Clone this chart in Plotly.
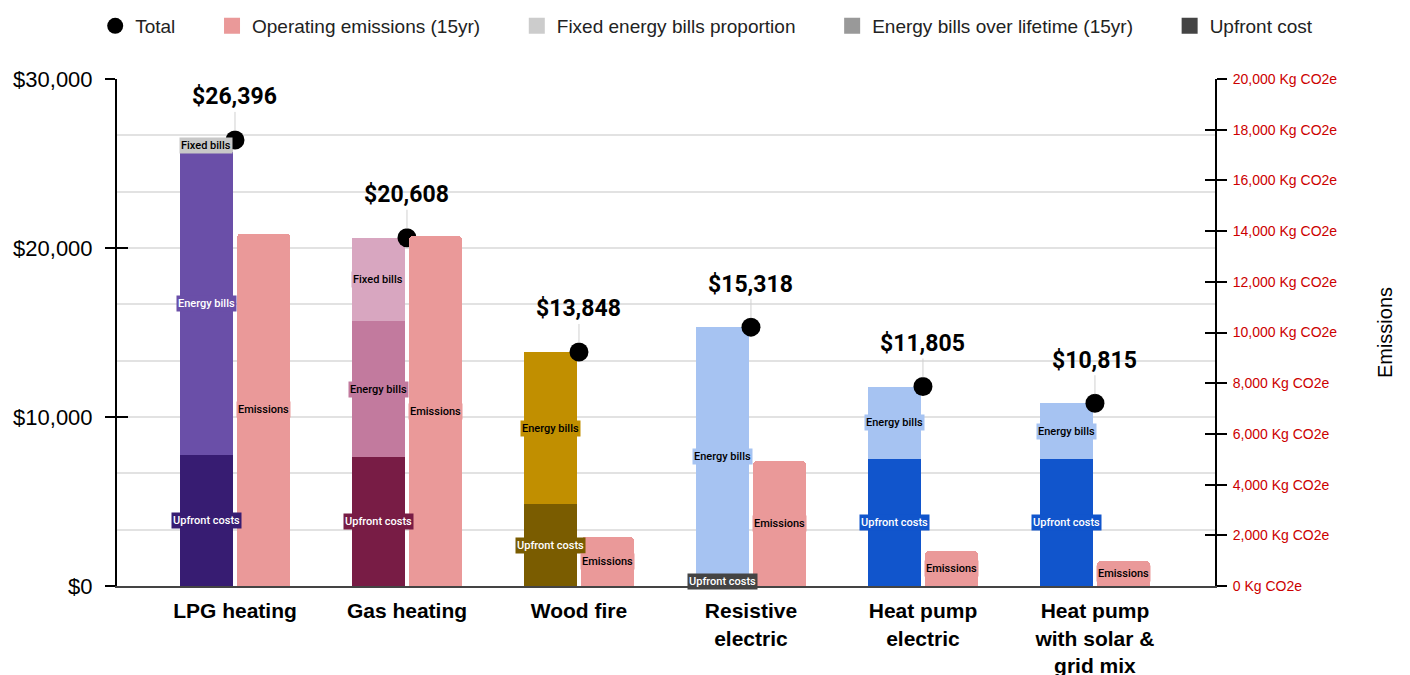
import plotly.graph_objects as go

# ---------------- data ----------------
categories = ["LPG heating", "Gas heating", "Wood fire", "Resistive<br>electric",
              "Heat pump<br>electric", "Heat pump<br>with solar &<br>grid mix"]
upfront = [7750, 7630, 4850, 0, 7500, 7500]
energy_bills = [17930, 8050, 8998, 15318, 4305, 3315]
fixed_bills = [716, 4928, 0, 0, 0, 0]
totals = [26396, 20608, 13848, 15318, 11805, 10815]
emissions = [13900, 13800, 1930, 4930, 1380, 990]
cost_ticks = [0, 10000, 20000, 30000]

upfront_colors = ["#371c72", "#781c45", "#7a5c00", "#444444", "#1155cc", "#1155cc"]
energy_colors = ["#6a4fa8", "#c27a9e", "#c18f00", "#a6c3f2", "#a6c3f2", "#a6c3f2"]
fixed_colors = ["#c8c8c8", "#d8a6c0", "#c8c8c8", "#c8c8c8", "#c8c8c8", "#c8c8c8"]
emission_color = "#ea9999"

legend_names = ["Total", "Operating emissions (15yr)", "Fixed energy bills proportion",
                "Energy bills over lifetime (15yr)", "Upfront cost"]
legend_colors = ["#000000", "#ea9999", "#cccccc", "#999999", "#444444"]
legend_symbols = ["circle", "square", "square", "square", "square"]

# ---------------- layout helpers ----------------
idx = list(range(len(categories)))
OFF = 0.166
BW = 0.308
cost_x = [i - OFF for i in idx]
em_x = [i + OFF for i in idx]

FONT = "Liberation Sans, Arial, sans-serif"
LBL_FONT = "Roboto, Arial, sans-serif"
PAD = "\u00a0" * 6


def text_color(hexc):
    h = hexc.lstrip("#")
    r, g, b = int(h[0:2], 16), int(h[2:4], 16), int(h[4:6], 16)
    lum = 0.299 * r + 0.587 * g + 0.114 * b
    return "#ffffff" if lum < 140 else "#000000"


fig = go.Figure()

# legend-only entries
for k, (n, c, s) in enumerate(zip(legend_names, legend_colors, legend_symbols)):
    label = n + (PAD if k < len(legend_names) - 1 else "")
    fig.add_trace(go.Scatter(x=[None], y=[None], mode="markers", name=label,
                             marker=dict(color=c, size=18, symbol=s)))

# stacked cost bars
fig.add_trace(go.Bar(x=cost_x, y=upfront, width=BW, marker=dict(color=upfront_colors, line=dict(width=0)),
                     showlegend=False, hoverinfo="y"))
fig.add_trace(go.Bar(x=cost_x, y=energy_bills, width=BW, marker=dict(color=energy_colors, line=dict(width=0)),
                     showlegend=False, hoverinfo="y"))
fig.add_trace(go.Bar(x=cost_x, y=fixed_bills, width=BW, marker=dict(color=fixed_colors, line=dict(width=0)),
                     showlegend=False, hoverinfo="y"))

# emissions bars on secondary axis
fig.add_trace(go.Bar(x=em_x, y=emissions, width=BW, yaxis="y2",
                     marker=dict(color=emission_color, cornerradius=4, line=dict(width=0)),
                     showlegend=False, hoverinfo="y"))

# total markers
fig.add_trace(go.Scatter(x=idx, y=totals, mode="markers", marker=dict(color="#000000", size=19),
                         showlegend=False, hoverinfo="y"))

# helper traces for crossing-tick overlay axes
fig.add_trace(go.Scatter(x=[None], y=[None], yaxis="y3", showlegend=False, hoverinfo="skip"))
fig.add_trace(go.Scatter(x=[None], y=[None], yaxis="y4", showlegend=False, hoverinfo="skip"))

annotations = []
for i in idx:
    segs = [("Upfront costs", 0, upfront[i], upfront_colors[i], True),
            ("Energy bills", upfront[i], energy_bills[i], energy_colors[i], True),
            ("Fixed bills", upfront[i] + energy_bills[i], fixed_bills[i], fixed_colors[i], fixed_bills[i] > 0)]
    for txt, base, val, col, show in segs:
        if not show:
            continue
        annotations.append(dict(
            x=cost_x[i], y=base + val / 2, xref="x", yref="y", text=txt, showarrow=False,
            font=dict(family=LBL_FONT, size=11, color=text_color(col), weight=500),
            bgcolor=col, borderpad=1, yshift=5 if val == 0 else 0))
    annotations.append(dict(
        x=em_x[i], y=emissions[i] / 2, xref="x", yref="y2", text="Emissions", showarrow=False,
        font=dict(family=LBL_FONT, size=11, color="#000000", weight=500), bgcolor=emission_color, borderpad=1))
    annotations.append(dict(
        x=i, y=totals[i], xref="x", yref="y", text=f"${totals[i]:,}", showarrow=True,
        arrowhead=0, arrowwidth=1, arrowcolor="#d0d0d0", ax=0, ay=-43, standoff=9,
        font=dict(family=LBL_FONT, size=23, color="#000000", weight="bold")))

fig.update_layout(
    width=1410, height=675,
    margin=dict(l=117, r=195, t=79, b=89, autoexpand=False),
    paper_bgcolor="white", plot_bgcolor="white",
    barmode="stack",
    font=dict(family=FONT, color="#000000"),
    showlegend=True,
    legend=dict(orientation="h", x=1.094, xanchor="right", y=1.1045, yanchor="middle",
                traceorder="normal", itemsizing="trace",
                font=dict(family=FONT, size=19, color="#222222")),
    xaxis=dict(range=[-0.686, 5.698], tickvals=idx, ticktext=categories,
               tickfont=dict(family=FONT, size=21, color="#000000", weight="bold"),
               showline=True, linecolor="#444444", linewidth=2, showgrid=False, zeroline=False,
               ticks="", automargin=False, ticklabelstandoff=5),
    yaxis=dict(range=[0, 30000], tickvals=cost_ticks, ticktext=[f"${v:,}" for v in cost_ticks],
               tickfont=dict(family=FONT, size=22, color="#000000"),
               ticks="outside", ticklen=10, tickwidth=2, tickcolor="#000000", ticklabelstandoff=8,
               showline=True, linecolor="#000000", linewidth=2, automargin=False,
               showgrid=True, gridcolor="#e2e2e2", gridwidth=1.5, zeroline=False,
               minor=dict(tick0=0, dtick=10000 / 3, showgrid=True, gridcolor="#e2e2e2", gridwidth=1.5, ticks="")),
    yaxis2=dict(range=[0, 20000], overlaying="y", side="right", anchor="x", dtick=2000,
                tickformat=",", ticksuffix=" Kg CO2e", automargin=False, ticklabelstandoff=3,
                tickfont=dict(family=FONT, size=14, color="#cc0000"),
                ticks="outside", ticklen=10, tickwidth=2, tickcolor="#000000",
                showline=True, linecolor="#000000", linewidth=2, showgrid=False, zeroline=False,
                title=dict(text="Emissions", font=dict(family=FONT, size=20, color="#000000"), standoff=42)),
    yaxis3=dict(range=[0, 30000], overlaying="y", side="left", anchor="x", automargin=False,
                tickvals=cost_ticks, ticks="inside", ticklen=11, tickwidth=2,
                tickcolor="#000000", showticklabels=False, showgrid=False, showline=False, zeroline=False),
    yaxis4=dict(range=[0, 20000], overlaying="y", side="right", anchor="x", dtick=2000, automargin=False,
                ticks="inside", ticklen=10, tickwidth=2, tickcolor="#000000",
                showticklabels=False, showgrid=False, showline=False, zeroline=False),
    annotations=annotations,
)

fig.write_html("out.html", config={"displayModeBar": False},
               post_script="document.body.style.margin='0';")
